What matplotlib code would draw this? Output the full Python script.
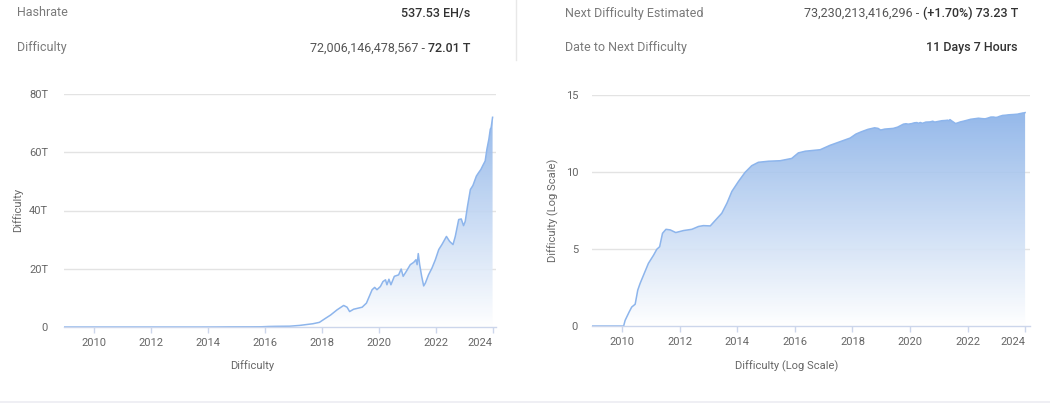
import numpy as np
import matplotlib
matplotlib.use("Agg")
import matplotlib.pyplot as plt
from matplotlib.colors import LinearSegmentedColormap
from matplotlib.lines import Line2D

plt.rcParams['font.family'] = ['Roboto', 'DejaVu Sans']

# ---------------- data ----------------
years = [
    2008.97, 2010.05, 2010.10, 2010.24, 2010.33, 2010.45, 2010.54, 2010.62, 2010.74, 2010.91,
    2011.09, 2011.20, 2011.30, 2011.40, 2011.52, 2011.67, 2011.86, 2012.13, 2012.42, 2012.65,
    2012.82, 2013.06, 2013.23, 2013.46, 2013.64, 2013.81, 2014.04, 2014.27, 2014.50, 2014.73,
    2015.08, 2015.49, 2015.89, 2016.12, 2016.36, 2016.88, 2017.22, 2017.69, 2017.92, 2018.12,
    2018.31, 2018.54, 2018.77, 2018.89, 2018.98, 2019.12, 2019.42, 2019.57, 2019.77, 2019.86,
    2019.94, 2020.06, 2020.15, 2020.24, 2020.29, 2020.36, 2020.43, 2020.55, 2020.70, 2020.79,
    2020.86, 2020.97, 2021.11, 2021.23, 2021.31, 2021.35, 2021.39, 2021.44, 2021.51, 2021.58,
    2021.64, 2021.75, 2021.87, 2021.99, 2022.11, 2022.22, 2022.38, 2022.49, 2022.61, 2022.69,
    2022.81, 2022.90, 2022.98, 2023.04, 2023.12, 2023.22, 2023.31, 2023.43, 2023.51, 2023.59,
    2023.66, 2023.74, 2023.80, 2023.87, 2023.92, 2023.95, 2024.00,
]
difficulty = [
    1, 1, 2.3, 8.1, 17, 26, 214, 575, 2.0e3, 1.17e4,
    4.0e4, 9.5e4, 1.41e5, 1.05e6, 1.9e6, 1.74e6, 1.17e6, 1.58e6, 1.9e6, 2.9e6,
    3.3e6, 3.16e6, 7.1e6, 2.1e7, 9.5e7, 5.5e8, 2.45e9, 9.5e9, 2.57e10, 4.27e10,
    5.0e10, 5.4e10, 7.6e10, 1.74e11, 2.24e11, 2.8e11, 5.4e11, 1.12e12, 1.6e12, 2.9e12,
    4.1e12, 5.9e12, 7.4e12, 6.8e12, 5.3e12, 6.1e12, 6.8e12, 8.2e12, 12.8e12, 13.6e12,
    12.8e12, 13.9e12, 15.6e12, 16.2e12, 14.5e12, 16.4e12, 14.5e12, 17.4e12, 17.9e12, 19.9e12,
    17.4e12, 19.1e12, 21.4e12, 22.2e12, 23.1e12, 21.4e12, 25.2e12, 21.4e12, 17.4e12, 14.1e12,
    15.1e12, 17.9e12, 20.2e12, 23.1e12, 26.6e12, 28.3e12, 31.1e12, 29.4e12, 28.3e12, 31.1e12,
    36.9e12, 37.1e12, 34.8e12, 36.3e12, 41.5e12, 47.2e12, 48.6e12, 51.8e12, 53.0e12, 54.1e12,
    55.5e12, 57.0e12, 61.0e12, 64.5e12, 67.9e12, 68.5e12, 72.0e12,
]
year_ticks = [2010, 2012, 2014, 2016, 2018, 2020, 2022, 2024]
left_yticks = [0, 20, 40, 60, 80]
left_yticklabels = ['0', '20T', '40T', '60T', '80T']
right_yticks = [0, 5, 10, 15]
right_yticklabels = ['0', '5', '10', '15']

header_left = [("Hashrate", "", "537.53 EH/s"),
               ("Difficulty", "72,006,146,478,567 - ", "72.01 T")]
header_right = [("Next Difficulty Estimated", "73,230,213,416,296 - ", "(+1.70%) 73.23 T"),
                ("Date to Next Difficulty", "", "11 Days 7 Hours")]

x = np.array(years)
d = np.array(difficulty, dtype=float)
left_vals = d / 1e12
right_vals = np.log10(d)

# ---------------- figure ----------------
W, H = 1050, 408
fig = plt.figure(figsize=(W / 100, H / 100), dpi=100)
fig.patch.set_facecolor('white')

def px_axes(l, t, r, b):
    return fig.add_axes([l / W, 1 - b / H, (r - l) / W, (b - t) / H])

ax1 = px_axes(64, 94, 496, 327)
ax2 = px_axes(592, 95, 1030, 326)

line_col = '#8db5ec'
cmap = LinearSegmentedColormap.from_list('g', ['#ffffff', '#80abe6'])
grid_col = '#e3e3e3'
axis_col = '#ccd6eb'
txt_col = '#666666'

def style(ax, vals, xlim, ylim, yticks, ylabels, pad):
    ax.set_xlim(*xlim)
    ax.set_ylim(*ylim)
    for yv in yticks[1:]:
        ax.axhline(yv, color=grid_col, lw=1, zorder=0.5)
    grad = np.linspace(0, 1, 256).reshape(-1, 1)
    im = ax.imshow(grad, extent=[xlim[0], xlim[1], 0, ylim[1]], origin='lower',
                   aspect='auto', cmap=cmap, zorder=1, interpolation='bilinear', alpha=0.9)
    poly = ax.fill_between(x, vals, 0, facecolor='none', edgecolor='none', zorder=1)
    im.set_clip_path(poly.get_paths()[0], transform=ax.transData)
    ax.plot(x, vals, color=line_col, lw=1.1, zorder=3, solid_joinstyle='round')
    for s in ['top', 'right', 'left']:
        ax.spines[s].set_visible(False)
    ax.spines['bottom'].set_color(axis_col)
    ax.spines['bottom'].set_linewidth(1)
    ax.spines['bottom'].set_zorder(4)
    ax.set_xticks(year_ticks)
    ax.set_xticklabels([str(t) for t in year_ticks])
    ax.set_yticks(yticks)
    ax.set_yticklabels(ylabels)
    ax.tick_params(axis='x', length=4, width=1, color=axis_col, labelsize=8,
                   labelcolor=txt_col, pad=4)
    ax.tick_params(axis='y', length=0, labelsize=8, labelcolor=txt_col, pad=pad)
    ax.set_facecolor('none')

style(ax1, left_vals, (2008.95, 2024.12), (0, 80), left_yticks, left_yticklabels, 11.5)
style(ax2, right_vals, (2008.95, 2024.17), (0, 15), right_yticks, right_yticklabels, 10)

# keep the last tick label inside the plot, like the reference
for lab in [ax1.get_xticklabels()[-1], ax2.get_xticklabels()[-1]]:
    lab.set_horizontalalignment('right')
    lab.set_x(2024.18)

def ftext(px, py, s, **kw):
    return fig.text(px / W, 1 - py / H, s, **kw)

ftext(18, 210, 'Difficulty', rotation=90, ha='center', va='center', fontsize=8, color=txt_col)
ftext(252, 366, 'Difficulty', ha='center', va='center', fontsize=8, color=txt_col)
ftext(553, 210, 'Difficulty (Log Scale)', rotation=90, ha='center', va='center', fontsize=8, color=txt_col)
ftext(787, 366, 'Difficulty (Log Scale)', ha='center', va='center', fontsize=8, color=txt_col)

# ---------------- header ----------------
label_col = '#7a7a7a'
val_col = '#555555'
bold_col = '#333333'
fig.canvas.draw()
renderer = fig.canvas.get_renderer()

def header_row(lx, rx, py, label, reg, bold):
    ftext(lx, py, label, ha='left', va='center', fontsize=9, color=label_col)
    t = ftext(rx, py, bold, ha='right', va='center', fontsize=9, color=bold_col, fontweight='medium')
    if reg:
        bb = t.get_window_extent(renderer)
        fig.text(bb.x0 / W, 1 - py / H, reg, ha='right', va='center', fontsize=9, color=val_col)

for i, (lab, reg, bold) in enumerate(header_left):
    header_row(17, 470, 13 + 35 * i, lab, reg, bold)
for i, (lab, reg, bold) in enumerate(header_right):
    header_row(565, 1018, 13 + 35 * i, lab, reg, bold)

fig.add_artist(Line2D([516 / W, 516 / W], [1 - 0 / H, 1 - 60 / H], color='#e8e8e8', lw=1))
fig.add_artist(Line2D([0, 1], [1 - 402 / H, 1 - 402 / H], color='#ececf2', lw=1.2))

fig.savefig('out.png', dpi=100, facecolor='white')
